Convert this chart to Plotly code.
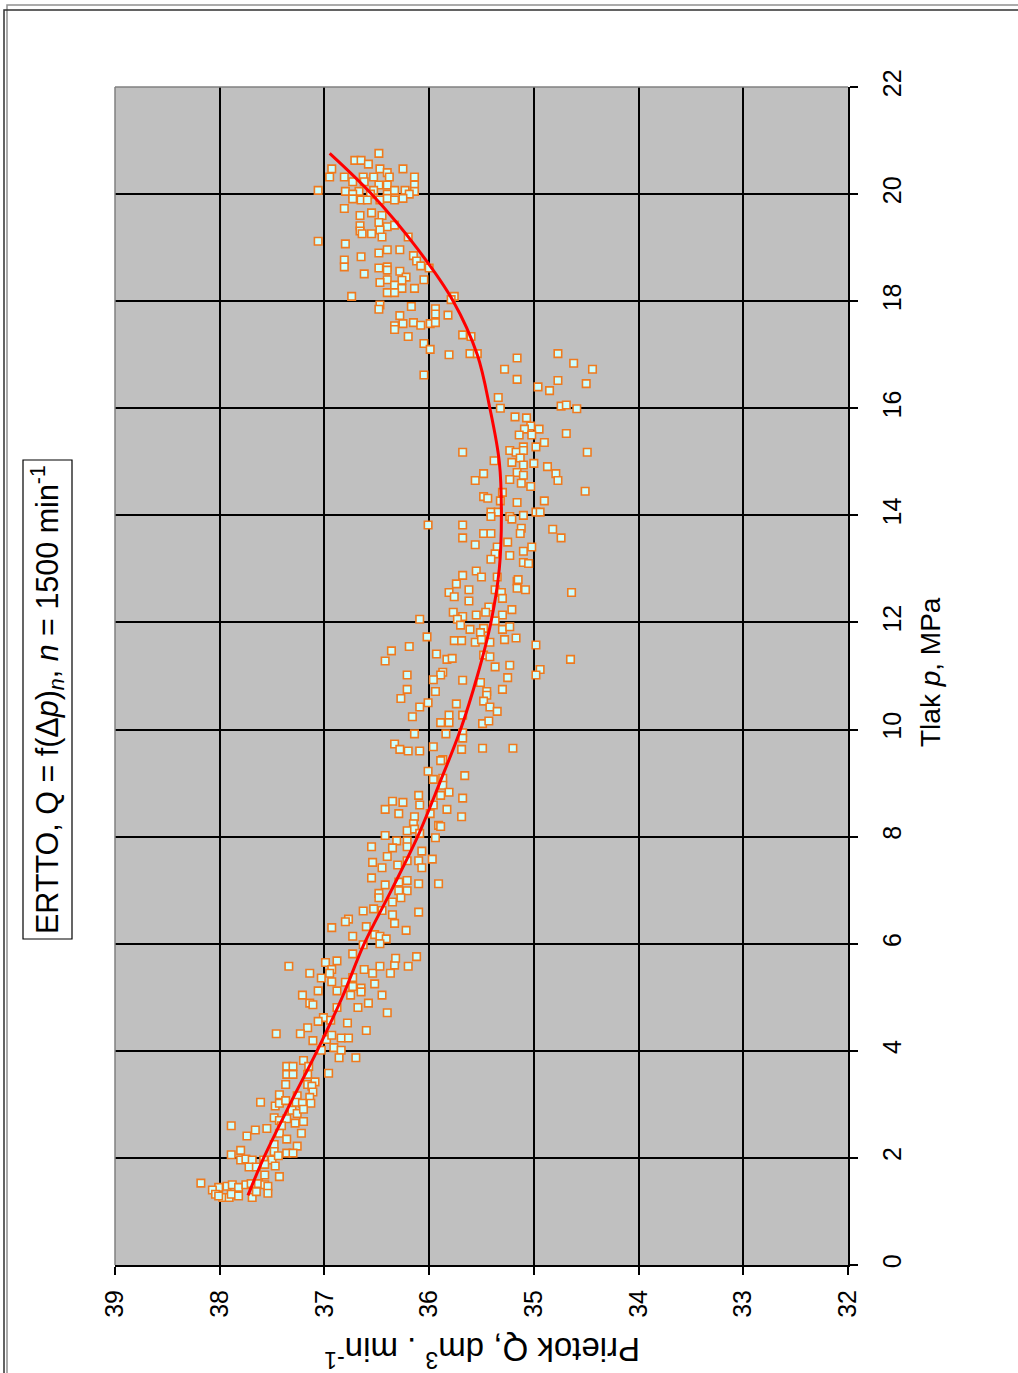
import plotly.graph_objects as go

# ---- data: measured points (pressure p [MPa], flow Q [dm3/min]) ----
pts_16_21 = [(20.76,36.48),(20.63,36.71),(20.63,36.65),(20.56,36.58),(20.47,36.93),(20.47,36.47),(20.47,36.25),(20.40,36.40),(20.32,36.95),(20.32,36.81),(20.32,36.63),(20.32,36.53),(20.32,36.38),(20.32,36.14),(20.23,36.73),(20.23,36.62),(20.17,36.48),(20.17,36.40),(20.17,36.14),(20.07,37.06),(20.05,36.80),(20.05,36.67),(20.07,36.53),(20.00,36.40),(20.07,36.33),(20.07,36.23),(20.05,36.14),(20.00,36.19),(20.00,36.73),(20.00,36.56),(19.91,36.73),(19.89,36.65),(19.89,36.59),(19.89,36.47),(19.92,36.40),(19.89,36.33),(19.92,36.25),(19.73,36.81),(19.60,36.66),(19.65,36.55),(19.60,36.45),(19.47,36.48),(19.39,36.40),(19.42,36.33),(19.41,36.66),(19.31,36.66),(19.26,36.64),(19.26,36.55),(19.33,36.47),(19.20,36.45),(19.20,36.20),(19.12,37.06),(19.07,36.80),(18.90,36.48),(18.96,36.40),(18.96,36.28),(18.83,36.65),(18.77,36.81),(18.64,36.81),(18.85,36.15),(18.75,36.12),(18.66,36.08),(18.62,36.00),(18.62,36.48),(18.64,36.40),(18.58,36.40),(18.56,36.28),(18.51,36.62),(18.45,36.22),(18.39,36.26),(18.40,36.05),(18.40,36.40),(18.35,36.47),(18.30,36.33),(18.24,36.26),(18.24,36.14),(18.16,36.40),(18.16,36.33),(18.09,36.74),(18.09,35.76),(18.03,35.79),(17.93,36.47),(17.85,36.48),(17.90,36.17),(17.86,35.94),(17.76,35.94),(17.73,36.28),(17.74,35.82),(17.54,36.33),(17.47,36.33),(17.58,36.25),(17.60,36.15),(17.55,36.08),(17.58,35.99),(17.60,35.94),(17.34,36.20),(17.37,35.68),(17.34,35.60),(17.21,36.05),(17.10,35.99),(17.00,35.81),(17.02,35.61),(17.02,35.54),(16.94,35.16),(17.02,34.77),(16.73,35.28),(16.84,34.62),(16.73,34.44),(16.54,35.16),(16.52,34.77),(16.40,34.96),(16.33,34.85),(16.46,34.50),(16.62,36.05),(16.20,35.34),(16.04,34.74),(16.06,34.69),(15.99,34.59),(16.00,35.32)]

pts_11_16 = [(15.84,35.18),(15.82,35.07),(15.67,35.03),(15.61,34.95),(15.61,35.09),(15.50,35.14),(15.50,35.02),(15.53,34.69),(15.28,35.10),(15.28,34.98),(15.36,34.90),(15.18,35.68),(15.21,35.23),(15.18,35.17),(15.21,35.10),(15.18,34.49),(15.07,35.13),(15.02,35.38),(14.99,35.21),(14.94,35.10),(14.97,35.00),(14.91,34.87),(14.78,35.48),(14.80,35.16),(14.75,35.10),(14.78,34.79),(14.65,35.56),(14.67,35.23),(14.65,34.77),(14.60,35.12),(14.54,35.03),(14.43,35.30),(14.45,34.51),(14.35,35.48),(14.32,35.44),(14.27,35.32),(14.24,35.16),(14.27,34.90),(14.06,35.41),(14.06,35.34),(13.98,35.41),(13.98,35.23),(13.93,35.21),(14.00,35.10),(14.06,34.98),(14.06,34.94),(13.82,36.01),(13.82,35.68),(13.76,35.12),(13.66,35.13),(13.74,34.82),(13.58,34.74),(13.58,35.68),(13.66,35.48),(13.66,35.41),(13.45,35.56),(13.50,35.25),(13.41,35.35),(13.41,35.02),(13.28,35.37),(13.25,35.23),(13.33,35.10),(13.18,35.41),(13.12,35.10),(13.10,35.05),(12.88,35.68),(12.96,35.55),(12.85,35.50),(12.85,35.35),(12.77,35.16),(12.80,35.15),(12.72,35.74),(12.56,35.81),(12.48,35.76),(12.61,35.62),(12.40,35.62),(12.61,35.37),(12.56,35.31),(12.45,35.30),(12.64,35.16),(12.61,35.08),(12.56,34.64),(12.29,35.43),(12.24,35.21),(12.19,35.77),(12.11,35.68),(12.14,35.55),(12.19,35.46),(12.14,35.30),(12.06,36.09),(12.06,35.73),(12.03,35.37),(11.95,35.70),(11.87,35.61),(11.89,35.48),(11.81,35.51),(11.87,35.30),(11.92,35.23),(11.73,36.02),(11.66,35.76),(11.66,35.69),(11.63,35.56),(11.68,35.50),(11.63,35.42),(11.68,35.28),(11.71,35.17),(11.58,34.98),(11.47,36.36),(11.55,36.19),(11.28,36.42),(11.41,35.93),(11.31,35.83),(11.33,35.78),(11.39,35.48),(11.36,35.42),(11.31,34.65),(11.17,35.37),(11.20,35.23),(11.12,34.94),(11.02,34.98),(11.02,36.21),(11.07,35.87),(11.02,35.89),(10.97,35.25),(10.92,35.68)]

pts_6_11 = [(10.93,35.96),(10.88,35.51),(10.75,35.30),(10.75,36.21),(10.71,35.94),(10.71,35.45),(10.64,35.45),(10.58,36.27),(10.53,35.48),(10.50,36.01),(10.48,35.74),(10.42,36.09),(10.42,35.42),(10.34,35.35),(10.27,35.81),(10.27,35.68),(10.24,36.16),(10.13,35.89),(10.13,35.81),(10.11,35.49),(10.16,35.43),(9.92,36.14),(9.92,35.84),(9.94,35.68),(9.84,35.68),(9.73,36.33),(9.63,36.28),(9.60,36.20),(9.60,36.09),(9.68,35.96),(9.63,35.69),(9.65,35.49),(9.65,35.20),(9.44,35.87),(9.42,35.89),(9.22,36.01),(9.14,35.66),(9.07,35.96),(9.09,35.87),(8.96,35.87),(8.77,36.10),(8.77,35.89),(8.83,35.81),(8.72,35.68),(8.66,36.35),(8.64,36.25),(8.59,36.09),(8.59,35.96),(8.51,36.42),(8.43,36.29),(8.51,35.83),(8.37,36.14),(8.43,35.99),(8.37,35.69),(8.24,36.15),(8.21,35.91),(8.19,35.89),(8.11,36.21),(8.14,36.14),(8.06,36.09),(8.02,36.42),(7.98,35.94),(7.92,36.31),(7.92,36.21),(7.81,36.55),(7.79,36.35),(7.81,36.21),(7.73,36.07),(7.63,36.40),(7.58,35.97),(7.52,36.54),(7.42,36.45),(7.47,36.30),(7.55,36.21),(7.55,36.10),(7.42,36.07),(7.23,36.55),(7.10,36.42),(7.15,36.29),(7.18,36.21),(7.12,36.10),(7.12,35.91),(6.94,36.48),(6.86,36.48),(6.99,36.29),(6.99,36.21),(6.86,36.27),(6.78,36.35),(6.61,36.63),(6.65,36.53),(6.62,36.45),(6.54,36.35),(6.59,36.10),(6.46,36.77),(6.41,36.80),(6.30,36.93),(6.32,36.60),(6.38,36.33),(6.25,36.22),(6.14,36.73),(6.17,36.52),(6.14,36.47),(6.09,36.41),(6.00,36.47),(5.98,36.63)]

pts_1_6 = [(5.81,36.73),(5.65,36.99),(5.68,36.88),(5.58,37.34),(5.45,37.14),(5.52,36.93),(5.45,36.95),(5.52,36.62),(5.45,36.54),(5.58,36.47),(5.45,36.37),(5.60,36.33),(5.73,36.32),(5.58,36.20),(5.76,36.12),(5.36,37.03),(5.29,36.93),(5.37,36.73),(5.28,36.80),(5.25,36.52),(5.12,37.06),(5.12,36.88),(5.20,36.73),(5.17,36.65),(5.10,36.65),(5.04,37.21),(5.04,36.75),(5.04,36.45),(4.89,37.14),(4.86,37.11),(4.81,36.88),(4.81,36.68),(4.89,36.58),(4.71,36.40),(4.62,37.01),(4.55,37.06),(4.57,36.94),(4.52,36.78),(4.43,37.16),(4.32,37.46),(4.32,37.23),(4.38,36.60),(4.19,37.11),(4.21,36.98),(4.29,36.93),(4.24,36.84),(4.24,36.77),(4.06,36.91),(4.01,36.84),(4.01,37.03),(3.87,36.86),(3.87,36.70),(3.82,37.20),(3.71,37.36),(3.71,37.30),(3.71,37.15),(3.56,37.36),(3.56,37.30),(3.56,37.16),(3.58,36.96),(3.37,37.37),(3.37,37.16),(3.42,37.09),(3.34,37.12),(3.23,37.11),(3.18,37.43),(3.16,37.26),(3.13,37.14),(3.04,37.61),(2.97,37.47),(3.02,37.43),(3.07,37.37),(3.04,37.27),(3.02,37.21),(3.02,37.13),(2.89,37.31),(2.83,37.26),(2.91,37.20),(2.75,37.48),(2.70,37.43),(2.73,37.36),(2.65,37.28),(2.68,37.20),(2.60,37.89),(2.52,37.66),(2.55,37.55),(2.41,37.74),(2.60,37.41),(2.46,37.43),(2.46,37.22),(2.35,37.36),(2.25,37.48),(2.22,37.26),(2.14,37.80),(2.12,37.48),(2.09,37.36),(2.09,37.30),(2.06,37.89),(1.96,37.80),(1.98,37.75),(1.96,37.69),(1.96,37.58),(1.96,37.50),(2.04,37.44),(1.83,37.72),(1.83,37.65),(1.88,37.57),(1.85,37.47),(1.68,37.57),(1.65,37.43),(1.53,38.18),(1.45,38.01),(1.40,38.07),(1.47,37.93),(1.50,37.88),(1.45,37.82),(1.50,37.75),(1.52,37.70),(1.52,37.63),(1.50,37.57),(1.47,37.54),(1.32,38.04),(1.26,37.97),(1.26,37.91),(1.32,37.89),(1.26,37.69),(1.37,37.65),(1.34,37.54),(1.29,38.01),(1.29,37.82)]

# trend line
trend_p = [1.3, 2, 3, 4, 5, 6, 7, 8, 9, 10, 11, 12, 13, 14, 15, 16, 17, 18, 19, 20, 20.76]
trend_q = [37.73, 37.58, 37.33, 37.07, 36.83, 36.62, 36.36, 36.11, 35.90, 35.70, 35.54, 35.41,
           35.33, 35.31, 35.33, 35.42, 35.54, 35.77, 36.12, 36.55, 36.95]

q_ticks = [39, 38, 37, 36, 35, 34, 33, 32]
p_ticks = [0, 2, 4, 6, 8, 10, 12, 14, 16, 18, 20, 22]

all_pts = pts_16_21 + pts_11_16 + pts_6_11 + pts_1_6
meas_p = [a for a, b in all_pts]
meas_q = [b for a, b in all_pts]

FONT = "Arial, Liberation Sans, sans-serif"

fig = go.Figure()
fig.add_trace(go.Scatter(
    x=meas_q, y=meas_p, mode="markers",
    marker=dict(symbol="square", size=7.5, color="#ccffff",
                line=dict(color="#f07a1e", width=1.6)),
    showlegend=False, hoverinfo="skip"))
fig.add_trace(go.Scatter(
    x=trend_q, y=trend_p, mode="lines",
    line=dict(color="#ff0000", width=3, shape="spline"),
    showlegend=False, hoverinfo="skip"))

W, H = 1018, 1373
L, T = 115, 87
PW, PH = 733, 1178
R = W - L - PW
B = H - T - PH

def px(x):  # window pixel -> paper
    return (x - L) / PW

def py(y):
    return (H - B - y) / PH

shapes = [
    dict(type="line", xref="paper", yref="paper", x0=0, x1=1, y0=1, y1=1,
         line=dict(color="#808080", width=1.5), layer="above"),
    dict(type="line", xref="paper", yref="paper", x0=0, x1=0, y0=0, y1=1,
         line=dict(color="#808080", width=1.5), layer="above"),
    dict(type="rect", xref="paper", yref="paper", x0=px(7), x1=px(1100), y0=py(5), y1=py(1450),
         line=dict(color="#909090", width=1.5), layer="below"),
    dict(type="rect", xref="paper", yref="paper", x0=px(4), x1=px(1100), y0=py(10), y1=py(1450),
         line=dict(color="#303030", width=1.5), layer="below"),
    dict(type="rect", xref="paper", yref="paper", x0=px(23), x1=px(72), y0=py(460), y1=py(939),
         line=dict(color="black", width=1.2), fillcolor="white", layer="below"),
]

annotations = [
    dict(text="ERTTO, Q = f(Δ<i>p</i>)<sub><i>n</i></sub>, <i>n</i> = 1500 min<sup>-1</sup>",
         xref="paper", yref="paper", x=px(47), y=py(700), showarrow=False,
         textangle=-90, font=dict(family=FONT, size=30.5, color="black"),
         xanchor="center", yanchor="middle"),
    dict(text="Tlak <i>p</i>, MPa", xref="paper", yref="paper", x=px(930), y=py(672),
         showarrow=False, textangle=-90, font=dict(family=FONT, size=28, color="black"),
         xanchor="center", yanchor="middle"),
    dict(text="Prietok Q, dm<sup>3</sup> . min<sup>-1</sup>", xref="paper", yref="paper",
         x=px(482), y=py(1352), showarrow=False, textangle=180,
         font=dict(family=FONT, size=33, color="black"),
         xanchor="center", yanchor="middle"),
]

fig.update_layout(
    width=W, height=H,
    margin=dict(l=L, r=R, t=T, b=B, pad=0),
    paper_bgcolor="white", plot_bgcolor="#c0c0c0",
    shapes=shapes, annotations=annotations,
    font=dict(family=FONT, color="black"),
    xaxis=dict(range=[39, 32], tickvals=q_ticks, ticktext=[str(v) for v in q_ticks],
               tickangle=-90, tickfont=dict(size=25, family=FONT, color="black"),
               showgrid=True, gridcolor="black", gridwidth=1.5,
               showline=True, linecolor="black", linewidth=2,
               ticks="outside", ticklen=8, tickwidth=1.5, tickcolor="black",
               ticklabelstandoff=5, zeroline=False, fixedrange=True),
    yaxis=dict(range=[0, 22], tickvals=p_ticks, ticktext=[str(v) for v in p_ticks],
               side="right", tickangle=-90, tickfont=dict(size=25, family=FONT, color="black"),
               showgrid=True, gridcolor="black", gridwidth=1.5,
               showline=True, linecolor="black", linewidth=2,
               ticks="outside", ticklen=8, tickwidth=1.5, tickcolor="black",
               ticklabelstandoff=13, zeroline=False, fixedrange=True),
)

fig.write_html("out.html", config={"displayModeBar": False},
               post_script="document.body.style.margin='0';document.body.style.overflow='hidden';")
